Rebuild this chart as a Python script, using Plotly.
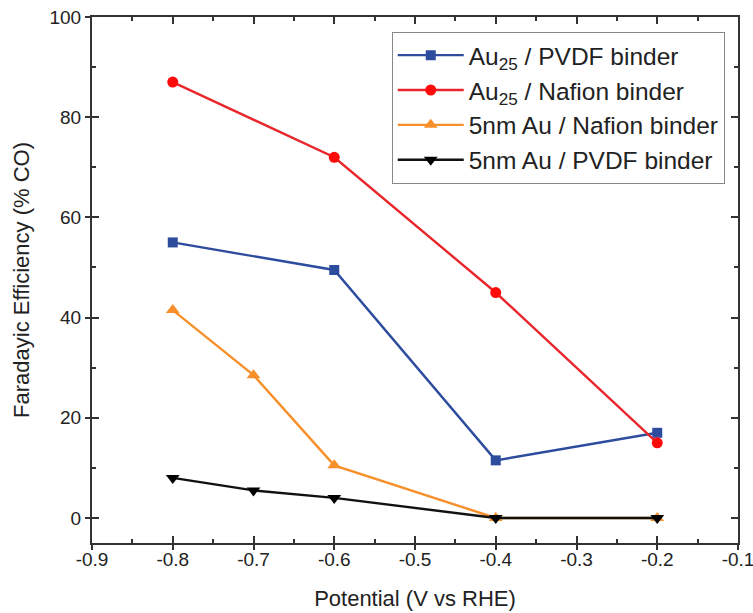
import plotly.graph_objects as go

# Potential (V vs RHE) and Faradaic efficiency to CO (%)
potential_au25 = [-0.8, -0.6, -0.4, -0.2]
fe_au25_pvdf = [55.0, 49.5, 11.5, 17.0]
fe_au25_nafion = [87.0, 72.0, 45.0, 15.0]

potential_5nm = [-0.8, -0.7, -0.6, -0.4, -0.2]
fe_5nm_nafion = [41.5, 28.5, 10.5, 0.0, 0.0]
fe_5nm_pvdf = [8.0, 5.5, 4.0, 0.0, 0.0]

x_ticks = [-0.9, -0.8, -0.7, -0.6, -0.5, -0.4, -0.3, -0.2, -0.1]
x_labels = ["-0.9", "-0.8", "-0.7", "-0.6", "-0.5", "-0.4", "-0.3", "-0.2", "-0.1"]
y_ticks = [0, 20, 40, 60, 80, 100]
y_labels = ["0", "20", "40", "60", "80", "100"]

series = [
    ("Au<sub>25</sub> / PVDF binder", potential_au25, fe_au25_pvdf, "#2E4C9E", "#2E4C9E", "square", 10),
    ("Au<sub>25</sub> / Nafion binder", potential_au25, fe_au25_nafion, "#E8262C", "#FF0A0A", "circle", 11),
    ("5nm Au / Nafion binder", potential_5nm, fe_5nm_nafion, "#F7902A", "#F7902A", "triangle-up", 12),
    ("5nm Au / PVDF binder", potential_5nm, fe_5nm_pvdf, "#111111", "#000000", "triangle-down", 12),
]

fig = go.Figure()
for name, xs, ys, lc, mc, sym, ms in series:
    fig.add_trace(go.Scatter(
        x=xs, y=ys, name=name, mode="lines+markers",
        line=dict(color=lc, width=2.4),
        marker=dict(color=mc, symbol=sym, size=ms, line=dict(width=0)),
    ))

font = "Liberation Sans, Arial, sans-serif"
tick_font = dict(family=font, size=19, color="#222")
title_font = dict(family=font, size=22, color="#222")
line_col = "#333"

fig.update_layout(
    width=753, height=613,
    margin=dict(l=92, r=15, t=17, b=70, autoexpand=False),
    paper_bgcolor="white", plot_bgcolor="white",
    showlegend=True,
    legend=dict(
        x=0.464, y=0.972, xanchor="left", yanchor="top",
        bgcolor="white", bordercolor="#888", borderwidth=1,
        font=dict(family=font, size=24.5, color="#222"),
        tracegroupgap=0, itemwidth=66,
    ),
    # main axes: frame with inner ticks, mirrored onto the top and right sides
    xaxis=dict(
        range=[-0.9, -0.1], tickmode="linear", tick0=x_ticks[0], dtick=0.1,
        showticklabels=False, automargin=False,
        showline=True, linecolor=line_col, linewidth=1.5, mirror="allticks",
        ticks="inside", ticklen=7, tickcolor=line_col, tickwidth=1.5,
        minor=dict(ticks="inside", ticklen=4, dtick=0.05,
                   tickcolor=line_col, tickwidth=1.5),
        showgrid=False, zeroline=False,
    ),
    yaxis=dict(
        range=[-5, 100], tickmode="linear", tick0=y_ticks[0], dtick=20,
        showticklabels=False, automargin=False,
        showline=True, linecolor=line_col, linewidth=1.5, mirror="allticks",
        ticks="inside", ticklen=7, tickcolor=line_col, tickwidth=1.5,
        minor=dict(ticks="inside", ticklen=4, dtick=10,
                   tickcolor=line_col, tickwidth=1.5),
        showgrid=False, zeroline=False,
    ),
    # outer half of the crossing major ticks, with the tick labels and titles
    xaxis2=dict(
        overlaying="x", side="bottom", range=[-0.9, -0.1], automargin=False,
        tickmode="array", tickvals=x_ticks, ticktext=x_labels, tickangle=0,
        ticklabeloverflow="allow", ticklabelstandoff=-7, tickfont=tick_font,
        ticks="outside", ticklen=6, tickcolor=line_col, tickwidth=1.5,
        showline=False, showgrid=False, zeroline=False,
        title=dict(text="Potential (V vs RHE)", font=title_font, standoff=21),
    ),
    yaxis2=dict(
        overlaying="y", side="left", range=[-5, 100], automargin=False,
        tickmode="array", tickvals=y_ticks, ticktext=y_labels,
        ticklabelstandoff=0, tickfont=tick_font,
        ticks="outside", ticklen=6, tickcolor=line_col, tickwidth=1.5,
        showline=False, showgrid=False, zeroline=False,
        title=dict(text="Faradayic Efficiency (% CO)", font=title_font, standoff=13),
    ),
)

# invisible trace anchoring the overlay axes
fig.add_trace(go.Scatter(x=[-0.9], y=[-5], xaxis="x2", yaxis="y2", mode="markers",
                         marker=dict(opacity=0), showlegend=False, hoverinfo="skip"))

fig.write_html("out.html")
